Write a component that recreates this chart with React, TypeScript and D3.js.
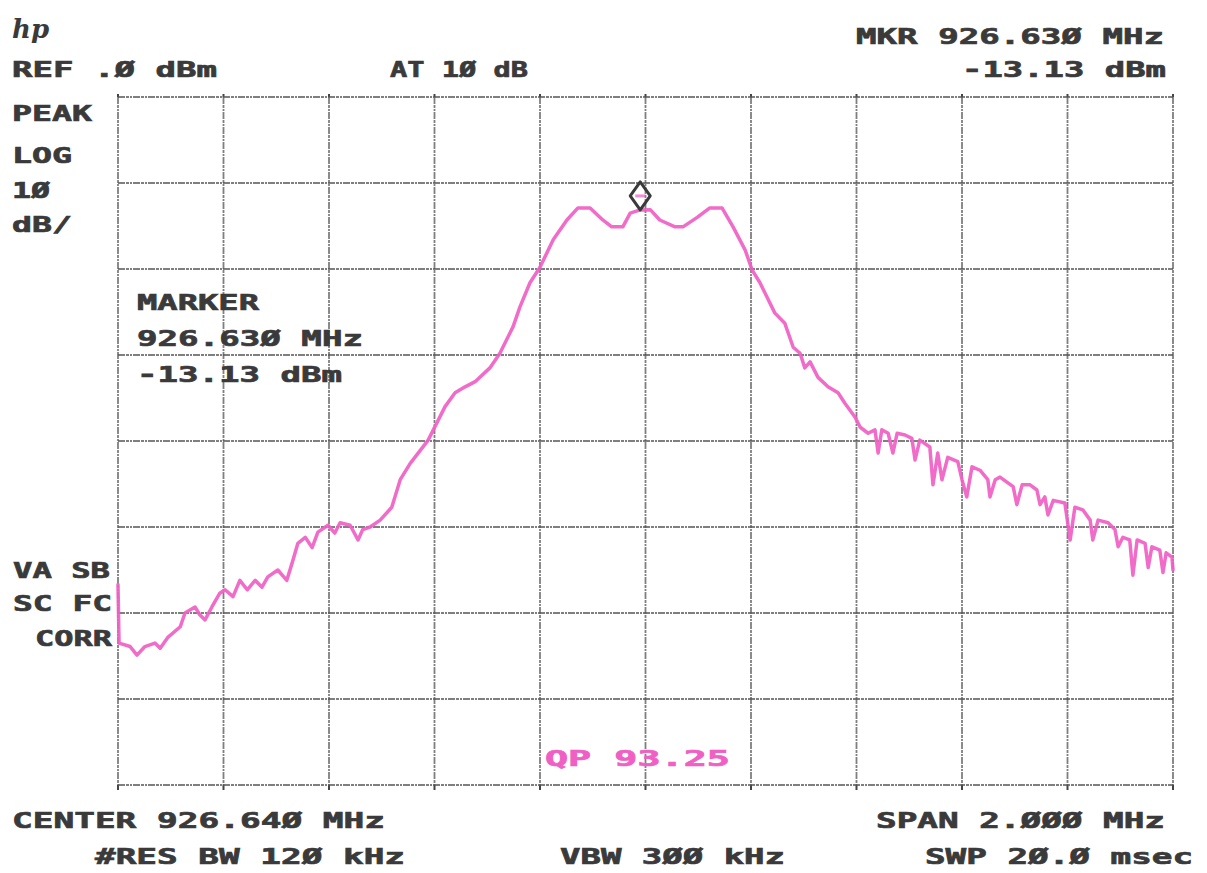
import React from "react";
import * as d3 from "d3";

// Trace data: frequency offset from center (kHz) and level (dBm)
const FREQ_KHZ = [
  -1000, -998, -977, -964, -949, -930, -920, -905, -882, -873, -854, -845, -835, -822, -807, -797,
  -782, -769, -755, -740, -727, -716, -697, -680, -670, -659, -645, -632, -621, -602, -589, -579,
  -560, -545, -536, -522, -503, -481, -465, -446, -412, -380, -361, -342, -323, -295, -276, -251,
  -238, -219, -200, -175, -149, -128, -105, -81, -64, -43, -29, -10, 9, 27, 56, 71, 98, 122, 145,
  166, 189, 202, 217, 245, 264, 280, 293, 302, 312, 327, 346, 365, 378, 397, 407, 422, 435, 441,
  448, 460, 469, 477, 492, 505, 511, 520, 539, 545, 554, 562, 573, 592, 600, 609, 619, 634, 649,
  653, 663, 672, 697, 704, 714, 729, 742, 748, 757, 763, 773, 795, 805, 814, 829, 843, 848, 858,
  877, 890, 896, 905, 918, 924, 932, 947, 953, 960, 975, 981, 987, 998, 1000,
];
const LEVEL_DBM = [
  -56.7, -63.5, -63.9, -64.9, -63.9, -63.5, -64.1, -62.8, -61.6, -60.0, -59.3, -60.2, -60.8, -59.3, -57.7, -57.3,
  -58.1, -56.2, -57.3, -56.2, -57.0, -55.8, -55.0, -56.2, -54.2, -51.9, -51.2, -52.4, -50.6, -49.8, -50.7, -49.5,
  -49.8, -51.5, -50.3, -50.0, -49.2, -47.7, -44.5, -42.6, -39.9, -36.0, -34.4, -33.7, -33.1, -31.5, -29.8, -26.7,
  -24.4, -21.6, -19.8, -16.6, -14.3, -12.9, -12.9, -14.3, -15.1, -15.1, -13.5, -13.13, -13.1, -14.3, -15.1, -15.1, -14.0, -12.9, -12.9,
  -15.1, -17.8, -20.1, -21.6, -25.1, -26.3, -29.1, -29.8, -31.5, -30.8, -32.6, -33.7, -34.4, -35.6, -37.2, -38.4, -39.1, -38.7, -41.4,
  -38.7, -39.1, -41.4, -39.1, -39.3, -39.7, -42.2, -39.9, -40.7, -45.1, -41.4, -44.5, -41.9, -42.4, -44.5, -46.5, -43.0, -43.4, -44.5,
  -46.5, -44.5, -44.2, -45.3, -47.4, -45.1, -45.1, -45.7, -47.4, -46.5, -48.6, -46.9, -47.2, -51.5, -47.7, -48.0, -49.2, -51.5, -49.2,
  -49.5, -50.3, -52.3, -51.2, -51.5, -55.6, -51.5, -51.9, -54.7, -52.3, -52.7, -55.3, -53.0, -53.5, -55.0,
];

const X_TICKS = [-1000, -800, -600, -400, -200, 0, 200, 400, 600, 800, 1000];
const Y_TICKS = [0, -10, -20, -30, -40, -50, -60, -70, -80];

const MARKER_KHZ = -10;
const MARKER_DBM = -13.13;

const W = 1207;
const H = 873;
const INK = "#3a3a3a";
const PINK = "#f060c4";
const FONT = "'DejaVu Sans Mono', monospace";

function T(props: { x: number; y: number; len: number; s: string; fill?: string }) {
  const c = props.fill || INK;
  return (
    <text
      x={props.x}
      y={props.y}
      textLength={props.len}
      lengthAdjust="spacingAndGlyphs"
      fontFamily={FONT}
      fontWeight="bold"
      fontSize={22}
      fill={c}
      stroke={c}
      strokeWidth={0.7}
    >
      {props.s}
    </text>
  );
}

export default function App() {
  const x = d3.scaleLinear().domain([-1000, 1000]).range([118, 1173]);
  const y = d3.scaleLinear().domain([0, -80]).range([97, 785]);
  const pts: [number, number][] = FREQ_KHZ.map((f, i) => [f, LEVEL_DBM[i]]);
  const line = d3
    .line<[number, number]>()
    .x((d) => x(d[0]))
    .y((d) => y(d[1]));
  const mx = x(MARKER_KHZ);
  const my = y(MARKER_DBM);
  const gridStyle = {
    stroke: "#555",
    strokeWidth: 1.8,
    strokeDasharray: "7 1 3 1 2 1",
    opacity: 0.75,
  };
  return (
    <div style={{ position: "absolute", left: 0, top: 0 }}>
      <svg width={W} height={H} style={{ display: "block", background: "#fff" }}>
        {/* grid */}
        {X_TICKS.map((t) => (
          <g key={"v" + t}>
            <line x1={x(t)} x2={x(t)} y1={y(0)} y2={y(-80)} {...gridStyle} />
            <line x1={x(t)} x2={x(t)} y1={y(-80)} y2={y(-80) + 5} stroke="#444" strokeWidth={2} />
            <line x1={x(t)} x2={x(t)} y1={y(0) - 3} y2={y(0)} stroke="#444" strokeWidth={2} />
          </g>
        ))}
        {Y_TICKS.map((t) => (
          <line key={"h" + t} x1={x(-1000)} x2={x(1000)} y1={y(t)} y2={y(t)} {...gridStyle} />
        ))}

        {/* trace */}
        <path
          d={line(pts) || ""}
          fill="none"
          stroke={PINK}
          strokeWidth={3.5}
          strokeLinejoin="round"
          strokeLinecap="round"
          opacity={0.92}
        />

        {/* marker */}
        <path
          d={`M${mx},${my - 28} L${mx + 10},${my - 14} L${mx},${my} L${mx - 10},${my - 14} Z`}
          fill="none"
          stroke={INK}
          strokeWidth={3}
          strokeLinejoin="round"
        />
        <path
          d={`M${mx - 5},${my - 14} L${mx + 5},${my - 14}`}
          stroke={PINK}
          strokeWidth={3}
          opacity={0.7}
        />

        {/* hp logo */}
        <text x={12} y={38} fontFamily="'DejaVu Serif', serif" fontStyle="italic" fontWeight="bold" fontSize={26} fill={INK}>
          hp
        </text>

        {/* header */}
        <T x={12} y={77} len={205} s="REF .Ø dBm" />
        <T x={390} y={77} len={138} s="AT 1Ø dB" />
        <T x={856} y={44} len={308} s="MKR 926.63Ø MHz" />
        <T x={962} y={77} len={204} s="-13.13 dBm" />

        {/* left labels */}
        <T x={12} y={121} len={80} s="PEAK" />
        <T x={12} y={163} len={60} s="LOG" />
        <T x={12} y={198} len={38} s="1Ø" />
        <T x={12} y={232} len={60} s="dB/" />
        <T x={13} y={578} len={97} s="VA SB" />
        <T x={13} y={611} len={99} s="SC FC" />
        <T x={35} y={646} len={77} s="CORR" />

        {/* marker readout */}
        <T x={137} y={310} len={122} s="MARKER" />
        <T x={137} y={346} len={226} s="926.63Ø MHz" />
        <T x={137} y={382} len={205} s="-13.13 dBm" />

        <T x={545} y={766} len={185} s="QP  93.25" fill={PINK} />

        {/* footer */}
        <T x={12} y={828} len={373} s="CENTER 926.64Ø MHz" />
        <T x={876} y={828} len={289} s="SPAN 2.ØØØ MHz" />
        <T x={95} y={864} len={310} s="#RES BW 12Ø kHz" />
        <T x={560} y={864} len={225} s="VBW 3ØØ kHz" />
        <T x={925} y={864} len={268} s="SWP 2Ø.Ø msec" />
      </svg>
    </div>
  );
}
